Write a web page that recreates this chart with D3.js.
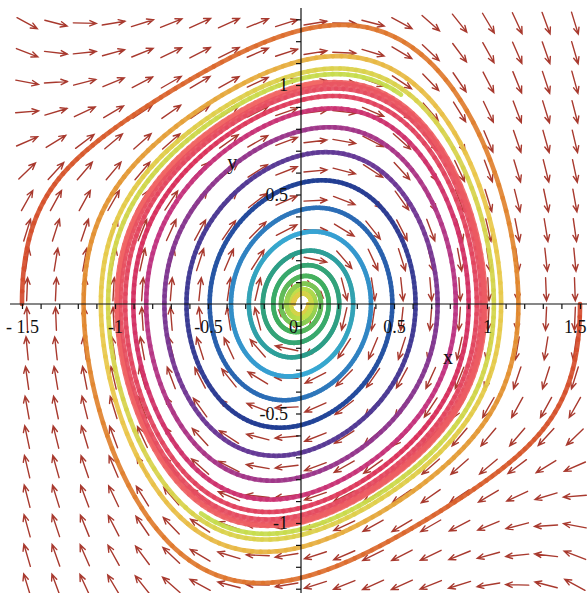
<!DOCTYPE html>
<html>
<head>
<meta charset="utf-8">
<script src="https://cdn.jsdelivr.net/npm/d3@7"></script>
<style>
  html, body { margin: 0; padding: 0; background: #fff; }
  svg { display: block; }
  .axis text { font-family: "Liberation Serif", "DejaVu Serif", serif; font-size: 18px; fill: #111; }
  .axis line { stroke: #111; stroke-width: 1.2; }
  .axis-title { font-family: "Liberation Serif", "DejaVu Serif", serif; font-size: 20px; fill: #111; }
</style>
</head>
<body>
<div id="chart-area"></div>
<script>
// system: x' = y,  y' = -x + mu*(1 - k*x^2)*y
var mu = 0.21;
var k = 4;

// trajectories: start point and which colour run they use (outer ones drawn first)
var startX = [-1.5, 1.5, 0.04, -0.04];
var startY = [0, 0, 0, 0];
var runKind = ["outer", "outer", "inner", "inner"];

// colour phase against time for each kind of run
var innerTimes = [0, 12, 39.4, 52];
var innerPhases = [0.15, 0.33, 0.95, 1.0];
var outerTimes = [0, 6.3, 12];
var outerPhases = [0, 0.15, 0.21];

// colour wheel (phase 0..1)
var phaseStops = [0, 0.08, 0.15, 0.22, 0.33, 0.45, 0.52, 0.6, 0.67, 0.75, 0.85, 0.93, 1];
var phaseColors = ["#d44a2c", "#e2892f", "#e9c84a", "#bfe04c", "#3fae60", "#2c9c8c", "#38a8d6",
                   "#2a6db6", "#1f3c92", "#6b3896", "#c23480", "#d9305a", "#f26a66"];

var xTickValues = [-1.5, -1, -0.5, 0, 0.5, 1, 1.5];
var xTickText = ["- 1.5", "-1", "-0.5", "0", "0.5", "1", "1.5"];
var yTickValues = [-1, -0.5, 0.5, 1];
var yTickText = ["-1", "-0.5", "0.5", "1"];

var width = 587, height = 593;

var x = d3.scaleLinear().domain([-1.5, 1.5]).range([22, 580]);
var y = d3.scaleLinear().domain([-1, 1]).range([523, 85]);

var color = d3.scaleLinear().domain(phaseStops).range(phaseColors);
var phaseOf = {
  inner: d3.scaleLinear().domain(innerTimes).range(innerPhases).clamp(true),
  outer: d3.scaleLinear().domain(outerTimes).range(outerPhases).clamp(true)
};
var runLength = { inner: innerTimes[innerTimes.length - 1], outer: outerTimes[outerTimes.length - 1] };

var svg = d3.select("#chart-area")
              .append("svg")
                .attr("width", width)
                .attr("height", height);

function field(p) {
  return [p[1], -p[0] + mu * (1 - k * p[0] * p[0]) * p[1]];
}

function rk4(p, h) {
  var k1 = field(p);
  var k2 = field([p[0] + h / 2 * k1[0], p[1] + h / 2 * k1[1]]);
  var k3 = field([p[0] + h / 2 * k2[0], p[1] + h / 2 * k2[1]]);
  var k4 = field([p[0] + h * k3[0], p[1] + h * k3[1]]);
  return [p[0] + h / 6 * (k1[0] + 2 * k2[0] + 2 * k3[0] + k4[0]),
          p[1] + h / 6 * (k1[1] + 2 * k2[1] + 2 * k3[1] + k4[1])];
}

// direction field, 20 x 20 arrows
var cols = 20, rows = 20;
var gridX = d3.range(cols).map(function(i) { return -1.55 + (i + 0.5) * 3.1 / cols; });
var gridY = d3.range(rows).map(function(j) { return -1.35 + (j + 0.5) * 2.7 / rows; });
var cells = [];
gridX.forEach(function(gx) {
  gridY.forEach(function(gy) { cells.push([gx, gy]); });
});

var arrowLen = 23, headLen = 7, headAngle = 0.4;

svg.append("g")
    .attr("fill", "none")
    .attr("stroke", "#a8392e")
    .attr("stroke-width", 1.4)
    .attr("stroke-linecap", "round")
  .selectAll("path")
  .data(cells)
  .enter()
  .append("path")
    .attr("d", function(d) {
      var v = field(d);
      var sx = x(d[0] + v[0]) - x(d[0]);
      var sy = y(d[1] + v[1]) - y(d[1]);
      var a = Math.atan2(sy, sx);
      var cx = x(d[0]), cy = y(d[1]);
      var tx = cx - Math.cos(a) * arrowLen / 2, ty = cy - Math.sin(a) * arrowLen / 2;
      var hx = cx + Math.cos(a) * arrowLen / 2, hy = cy + Math.sin(a) * arrowLen / 2;
      var b1x = hx - headLen * Math.cos(a - headAngle), b1y = hy - headLen * Math.sin(a - headAngle);
      var b2x = hx - headLen * Math.cos(a + headAngle), b2y = hy - headLen * Math.sin(a + headAngle);
      return "M" + tx + "," + ty + "L" + hx + "," + hy +
             "M" + b1x + "," + b1y + "L" + hx + "," + hy + "L" + b2x + "," + b2y;
    });

// solution curves, coloured by time
var dt = 0.01, segSteps = 4;
var line = d3.line()
  .x(function(d) { return x(d[0]); })
  .y(function(d) { return y(d[1]); });

var segments = [];
startX.forEach(function(x0, i) {
  var kind = runKind[i];
  var p = [x0, startY[i]];
  var pts = [p];
  var n = Math.round(runLength[kind] / dt);
  for (var s = 0; s < n; s++) {
    p = rk4(p, dt);
    pts.push(p);
  }
  for (var s = 0; s < n; s += segSteps) {
    var t = (s + segSteps / 2) * dt;
    segments.push({ pts: pts.slice(s, s + segSteps + 1), phase: phaseOf[kind](t) });
  }
});

svg.append("g")
    .attr("fill", "none")
    .attr("stroke-width", 4.6)
    .attr("stroke-linecap", "round")
    .attr("stroke-opacity", 0.92)
  .selectAll("path")
  .data(segments)
  .enter()
  .append("path")
    .attr("d", function(d) { return line(d.pts); })
    .attr("stroke", function(d) { return color(d.phase); });

// axes through the origin
var xMinor = d3.range(-15, 16).map(function(v) { return v / 10; });
var yMinor = d3.range(-13, 14).filter(function(v) { return v !== 0; }).map(function(v) { return v / 10; });

function labelFor(values, texts) {
  return function(d) {
    var i = values.findIndex(function(v) { return Math.abs(v - d) < 1e-9; });
    return i < 0 ? "" : texts[i];
  };
}

var xAxis = svg.append("g")
    .attr("class", "axis")
    .attr("transform", "translate(0," + y(0) + ")")
    .call(d3.axisBottom(x)
      .tickValues(xMinor)
      .tickSize(5)
      .tickPadding(11)
      .tickSizeOuter(0)
      .tickFormat(labelFor(xTickValues, xTickText)));
xAxis.select(".domain").remove();
xAxis.selectAll(".tick text").filter(function(d) { return d === 0; }).attr("dx", -8);
xAxis.selectAll(".tick text").filter(function(d) { return d === 1.5; })
    .attr("text-anchor", "end").attr("dx", 6);
xAxis.append("line")
    .attr("x1", 10).attr("x2", width)
    .attr("stroke", "#111").attr("stroke-width", 2);

var yAxis = svg.append("g")
    .attr("class", "axis")
    .attr("transform", "translate(" + x(0) + ",0)")
    .call(d3.axisLeft(y)
      .tickValues(yMinor)
      .tickSize(5)
      .tickPadding(8)
      .tickSizeOuter(0)
      .tickFormat(labelFor(yTickValues, yTickText)));
yAxis.select(".domain").remove();
yAxis.append("line")
    .attr("y1", 8).attr("y2", height)
    .attr("stroke", "#111").attr("stroke-width", 2);

svg.append("text").attr("class", "axis-title")
    .attr("x", x(0.79)).attr("y", y(-0.24))
    .attr("text-anchor", "middle").attr("dy", "0.35em")
    .text("x");
svg.append("text").attr("class", "axis-title")
    .attr("x", x(-0.37)).attr("y", y(0.65))
    .attr("text-anchor", "middle").attr("dy", "0.35em")
    .text("y");
</script>
</body>
</html>
